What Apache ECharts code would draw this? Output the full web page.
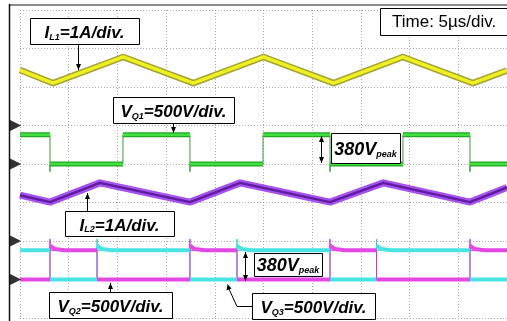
<!DOCTYPE html>
<html><head><meta charset="utf-8">
<script src="https://cdn.jsdelivr.net/npm/echarts@6/dist/echarts.min.js"></script>
<style>html,body{margin:0;padding:0;background:#fff}#c{width:507px;height:321px}</style>
</head><body><div id="c"></div>
<script>
// ---- data (time in µs, 5 µs/div; currents in screen divisions, voltages in V) ----
const timeRangeUs = [0, 50];
const divisionRange = [0, 8];
// I_L1 (yellow) triangle ripple, divisions
const il1T   = [0, 3.4, 10.6, 17.8, 25.0, 32.2, 39.3, 46.5, 50];
const il1Div = [6.44, 6.10, 6.78, 6.10, 6.78, 6.10, 6.78, 6.10, 6.43];
// I_L2 (purple) ripple, divisions
const il2T   = [0, 3.08, 8.2, 17.45, 22.6, 31.83, 37.3, 46.2, 50];
const il2Div = [3.19, 3.01, 3.51, 3.01, 3.51, 3.01, 3.51, 3.01, 3.39];
// switch voltages: edge times (µs), levels (V)
const vq1Edges = [3.08, 10.57, 17.45, 24.95, 31.83, 39.32, 46.2];   // starts high
const vq2Edges = [3.08, 7.91, 17.45, 22.28, 31.83, 36.6, 46.2];     // starts low
const vq3Edges = [3.08, 7.91, 17.45, 22.28, 31.83, 36.6, 46.2];     // starts high
const vPeak = 380;
const vq1UndershootV = -100;
const vq23SpikeV = 525;
const vq23SettleV = [440, 395, 380];
const vq23SettleUs = [0, 0.5, 1.5];
const voltsPerDiv = 500;
const vq1GroundDiv = 4;
const vq23GroundDiv = 1;
const refMarkerDiv = [5, 4, 2, 1];

// ---- helpers ----
const toDiv = (v, g) => g + v / voltsPerDiv;
function pts(ts, vs) { return ts.map((t, i) => [t, vs[i]]); }
function buildStep(edges, startHigh, g, opt) {
  const full = [], seg = [];
  let high = startHigh;
  const end = timeRangeUs[1];
  full.push([0, toDiv(high ? vPeak : 0, g)]);
  seg.push([0, toDiv(high ? vPeak : 0, g)]);
  edges.forEach(t => {
    if (high) {
      full.push([t, toDiv(vPeak, g)]);
      if (opt.under !== undefined) full.push([t, toDiv(opt.under, g)]);
      full.push([t, toDiv(0, g)]);
      seg.push([t, toDiv(vPeak, g)]); seg.push([t, '-']);
      seg.push([t, toDiv(0, g)]);
    } else {
      full.push([t, toDiv(0, g)]);
      if (opt.spike !== undefined) full.push([t, toDiv(opt.spike, g)]);
      full.push([t, toDiv(vPeak, g)]);
      seg.push([t, toDiv(0, g)]); seg.push([t, '-']);
      if (opt.settle) opt.settle.forEach((v, i) => seg.push([t + opt.settleT[i], toDiv(v, g)]));
      else seg.push([t, toDiv(vPeak, g)]);
    }
    high = !high;
  });
  full.push([end, toDiv(high ? vPeak : 0, g)]);
  seg.push([end, toDiv(high ? vPeak : 0, g)]);
  return { full, seg };
}
const vq1 = buildStep(vq1Edges, true, vq1GroundDiv, { under: vq1UndershootV });
const vq2 = buildStep(vq2Edges, false, vq23GroundDiv, { spike: vq23SpikeV, settle: vq23SettleV, settleT: vq23SettleUs });
const vq3 = buildStep(vq3Edges, true, vq23GroundDiv, { spike: vq23SpikeV, settle: vq23SettleV, settleT: vq23SettleUs });

function line(data, color, width, z) {
  return { type: 'line', data, showSymbol: false, symbol: 'none', connectNulls: false,
    lineStyle: { color, width, join: 'round' }, z, silent: true, animation: false };
}

// ---- annotations ----
const FF = '"Liberation Sans", Arial, sans-serif';
const big = { fontFamily: FF, fontSize: 17, fontStyle: 'italic', fontWeight: 'bold', color: '#000', verticalAlign: 'bottom', lineHeight: 20 };
const sub = { fontFamily: FF, fontSize: 9, fontStyle: 'italic', fontWeight: 'bold', color: '#000', verticalAlign: 'bottom', lineHeight: 20 };
const big380 = Object.assign({}, big, { fontSize: 18 });
const richLabel = { a: big, s: sub, b: big380 };

const G = [];
function box(x, y, w, h, text, tx) {
  G.push({ type: 'rect', shape: { x: x + 0.5, y: y + 0.5, width: w, height: h }, style: { fill: '#fff', stroke: '#000', lineWidth: 1 }, z: 100 });
  G.push({ type: 'text', x: tx !== undefined ? tx : x + w / 2, y: y + h / 2 + 1,
    style: { text, rich: richLabel, align: tx !== undefined ? 'left' : 'center', verticalAlign: 'middle' }, z: 101 });
}
function head(x, y, dir) {
  G.push({ type: 'polygon', shape: { points: [[x, y], [x - 2.5, y - 6 * dir], [x + 2.5, y - 6 * dir]] }, style: { fill: '#000' }, z: 100 });
}
function arrowV(x, y1, y2, doubleHead) {
  G.push({ type: 'line', shape: { x1: x + 0.5, y1, x2: x + 0.5, y2 }, style: { stroke: '#000', lineWidth: 1 }, z: 100 });
  head(x + 0.5, y2, y2 > y1 ? 1 : -1);
  if (doubleHead) head(x + 0.5, y1, y1 > y2 ? 1 : -1);
}

// frame
G.push({ type: 'line', shape: { x1: 9, y1: 5, x2: 507, y2: 5 }, style: { stroke: '#8a8a8a', lineWidth: 2 }, z: 90 });
G.push({ type: 'line', shape: { x1: 9.5, y1: 4, x2: 9.5, y2: 321 }, style: { stroke: '#111', lineWidth: 1.5 }, z: 90 });

box(30, 18, 109, 26, '{a|I}{s|L1}{a|=1A/div.}');
arrowV(78, 44, 70);
box(380, 8, 140, 27, '', undefined);
G.push({ type: 'text', x: 392, y: 22, style: { text: 'Time: 5µs/div.', fontFamily: FF, fontSize: 17, fill: '#000', align: 'left', verticalAlign: 'middle' }, z: 101 });
box(113, 97, 121, 26, '{a|V}{s|Q1}{a|=500V/div.}');
arrowV(173, 123, 133);
box(331, 133, 69, 30, '{b|380V}{s|peak}');
arrowV(321, 136, 163, true);
box(65, 211, 109, 25, '{a|I}{s|L2}{a|=1A/div.}');
arrowV(87, 211, 193);
box(254, 253, 68, 23, '{b|380V}{s|peak}');
arrowV(245, 252, 281, true);
box(49, 292, 123, 26, '{a|V}{s|Q2}{a|=500V/div.}');
arrowV(110, 292, 283);
box(252, 293, 123, 26, '{a|V}{s|Q3}{a|=500V/div.}');
G.push({ type: 'polyline', shape: { points: [[252, 306.5], [237, 306.5], [229, 289]] }, style: { stroke: '#000', lineWidth: 1, fill: null }, z: 100 });
G.push({ type: 'polygon', shape: { points: [[227.5, 284], [226.5, 290.5], [231.5, 288.5]] }, style: { fill: '#000' }, z: 100 });

const option = {
  animation: false,
  backgroundColor: '#fff',
  grid: { left: 20, right: 0, top: 10, bottom: 3 },
  xAxis: { type: 'value', min: timeRangeUs[0], max: timeRangeUs[1], interval: 5,
    axisLabel: { show: false }, axisTick: { show: false }, axisLine: { show: false },
    splitLine: { show: true, lineStyle: { color: '#a8a8a8', type: [1, 2], width: 1 } } },
  yAxis: { type: 'value', min: divisionRange[0], max: divisionRange[1], interval: 1,
    axisLabel: { show: false }, axisTick: { show: false }, axisLine: { show: false },
    splitLine: { show: true, lineStyle: { color: '#a8a8a8', type: [1, 2], width: 1 } } },
  series: [
    line(pts(il1T, il1Div), '#a3a336', 6.5, 2),
    line(pts(il1T, il1Div), '#f0f020', 3.5, 3),
    line(vq1.full, '#3a9a3a', 1, 2),
    line(vq1.seg, '#22a822', 5, 3),
    line(vq1.seg, '#3fe03f', 2.5, 4),
    line(pts(il2T, il2Div), '#a552ee', 7, 2),
    line(pts(il2T, il2Div), '#5e1c9e', 2.5, 3),
    line(vq3.full, '#30cccc', 1, 2),
    line(vq2.full, '#d030d0', 1, 2),
    line(vq3.seg, '#48e4e4', 4, 3),
    line(vq2.seg, '#e448e4', 4, 3),
    { type: 'scatter', data: refMarkerDiv.map(d => [-0.5, d]), symbol: 'triangle', symbolRotate: -90,
      symbolSize: [12, 12], itemStyle: { color: '#000' }, clip: false, z: 5, silent: true }
  ],
  graphic: { elements: G }
};
const chart = echarts.init(document.getElementById('c'), null, { renderer: 'canvas' });
chart.setOption(option);
</script></body></html>
